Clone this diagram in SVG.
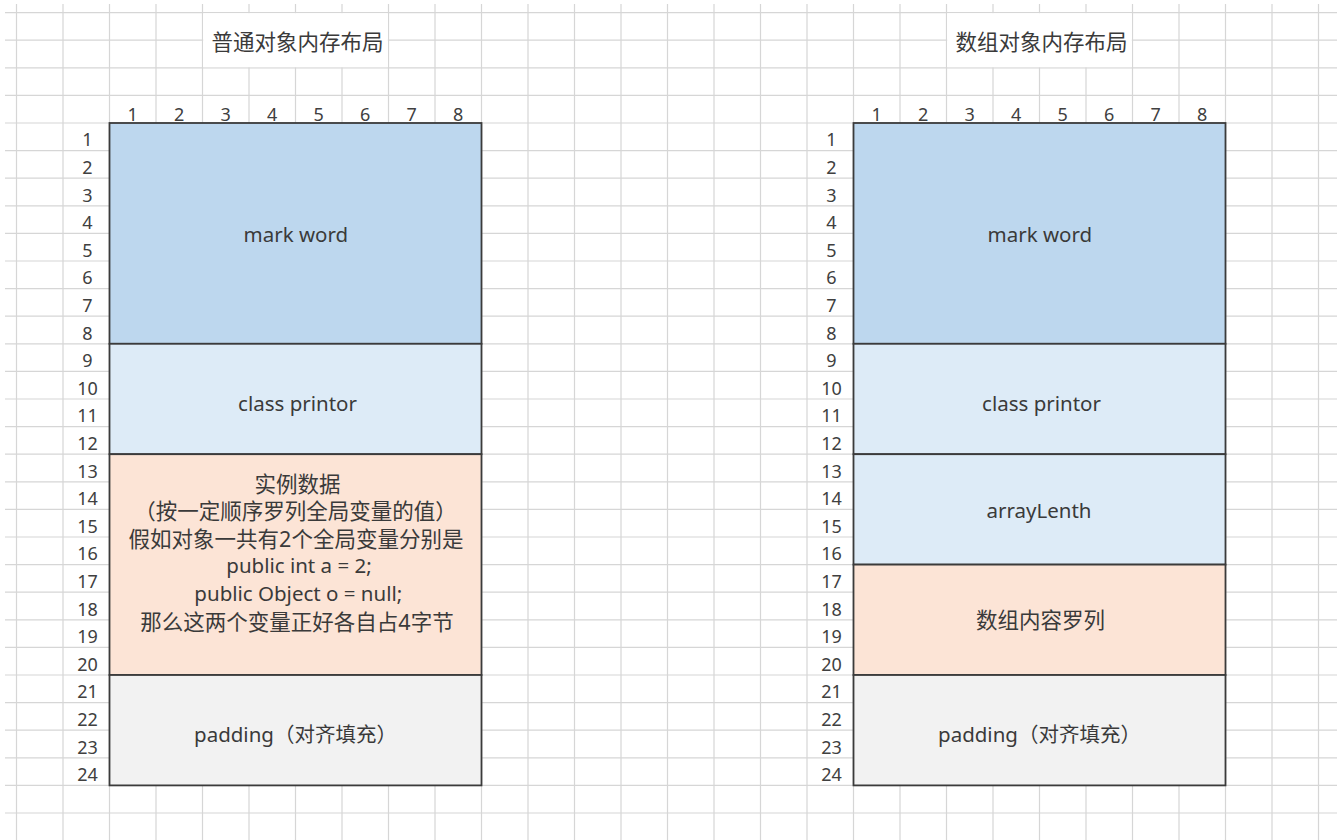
<svg xmlns="http://www.w3.org/2000/svg" width="1337" height="840" viewBox="0 0 1337 840">
<style>
.grid{stroke:#d6d6d6;stroke-width:1.2;fill:none}
.box{stroke:#3b3b3b;stroke-width:1.8}
.b1{fill:#bdd7ee}.b2{fill:#ddebf7}.b3{fill:#fce4d6}.b4{fill:#f2f2f2}
.num{font-family:"Noto Sans","Liberation Sans",sans-serif;font-size:18px;fill:#404040;text-anchor:middle}
.lbl{font-family:"Noto Sans","Noto Sans CJK SC",sans-serif;font-size:20.5px;fill:#3a3a3a;text-anchor:middle}
.cjk{font-family:"Noto Sans","Noto Sans CJK SC",sans-serif;font-size:21.5px;fill:#3a3a3a;text-anchor:middle}
</style>
<rect width="1337" height="840" fill="#ffffff"/>
<g id="grid">
<path class="grid" d="M16.5 4V840M63 4V840M109.5 4V840M156 4V840M202.5 4V840M249 4V840M295.5 4V840M342 4V840M388.5 4V840M435 4V840M481.5 4V840M528 4V840M574.5 4V840M621 4V840M667.5 4V840M714 4V840M760.5 4V840M807 4V840M853.5 4V840M900 4V840M946.5 4V840M993 4V840M1039.5 4V840M1086 4V840M1132.5 4V840M1179 4V840M1225.5 4V840M1272 4V840M1318.5 4V840"/>
<path class="grid" d="M5 12.6H1337M5 40.2H1337M5 67.8H1337M5 95.4H1337M5 123H1337M5 150.6H1337M5 178.2H1337M5 205.8H1337M5 233.4H1337M5 261H1337M5 288.6H1337M5 316.2H1337M5 343.8H1337M5 371.4H1337M5 399H1337M5 426.6H1337M5 454.2H1337M5 481.8H1337M5 509.4H1337M5 537H1337M5 564.6H1337M5 592.2H1337M5 619.8H1337M5 647.4H1337M5 675H1337M5 702.6H1337M5 730.2H1337M5 757.8H1337M5 785.4H1337M5 813H1337"/>
</g>
<g id="left-title">
<rect x="203.2" y="13.2" width="184.6" height="54" fill="#ffffff"/>
<text class="cjk" x="297.5" y="50">普通对象内存布局</text>
</g>
<g id="right-title">
<rect x="947.2" y="13.2" width="184.6" height="54" fill="#ffffff"/>
<text class="cjk" x="1041.5" y="50">数组对象内存布局</text>
</g>
<g id="left-col-headers">
<text class="num" x="132.75" y="120.7">1</text><text class="num" x="179.25" y="120.7">2</text><text class="num" x="225.75" y="120.7">3</text><text class="num" x="272.25" y="120.7">4</text><text class="num" x="318.75" y="120.7">5</text><text class="num" x="365.25" y="120.7">6</text><text class="num" x="411.75" y="120.7">7</text><text class="num" x="458.25" y="120.7">8</text>
</g>
<g id="right-col-headers">
<text class="num" x="876.75" y="120.7">1</text><text class="num" x="923.25" y="120.7">2</text><text class="num" x="969.75" y="120.7">3</text><text class="num" x="1016.25" y="120.7">4</text><text class="num" x="1062.75" y="120.7">5</text><text class="num" x="1109.25" y="120.7">6</text><text class="num" x="1155.75" y="120.7">7</text><text class="num" x="1202.25" y="120.7">8</text>
</g>
<g id="left-row-numbers">
<text class="num" x="87.5" y="146.3">1</text><text class="num" x="87.5" y="173.9">2</text><text class="num" x="87.5" y="201.5">3</text><text class="num" x="87.5" y="229.1">4</text><text class="num" x="87.5" y="256.7">5</text><text class="num" x="87.5" y="284.3">6</text><text class="num" x="87.5" y="311.9">7</text><text class="num" x="87.5" y="339.5">8</text><text class="num" x="87.5" y="367.1">9</text><text class="num" x="87.5" y="394.7">10</text><text class="num" x="87.5" y="422.3">11</text><text class="num" x="87.5" y="449.9">12</text><text class="num" x="87.5" y="477.5">13</text><text class="num" x="87.5" y="505.1">14</text><text class="num" x="87.5" y="532.7">15</text><text class="num" x="87.5" y="560.3">16</text><text class="num" x="87.5" y="587.9">17</text><text class="num" x="87.5" y="615.5">18</text><text class="num" x="87.5" y="643.1">19</text><text class="num" x="87.5" y="670.7">20</text><text class="num" x="87.5" y="698.3">21</text><text class="num" x="87.5" y="725.9">22</text><text class="num" x="87.5" y="753.5">23</text><text class="num" x="87.5" y="781.1">24</text>
</g>
<g id="right-row-numbers">
<text class="num" x="831.5" y="146.3">1</text><text class="num" x="831.5" y="173.9">2</text><text class="num" x="831.5" y="201.5">3</text><text class="num" x="831.5" y="229.1">4</text><text class="num" x="831.5" y="256.7">5</text><text class="num" x="831.5" y="284.3">6</text><text class="num" x="831.5" y="311.9">7</text><text class="num" x="831.5" y="339.5">8</text><text class="num" x="831.5" y="367.1">9</text><text class="num" x="831.5" y="394.7">10</text><text class="num" x="831.5" y="422.3">11</text><text class="num" x="831.5" y="449.9">12</text><text class="num" x="831.5" y="477.5">13</text><text class="num" x="831.5" y="505.1">14</text><text class="num" x="831.5" y="532.7">15</text><text class="num" x="831.5" y="560.3">16</text><text class="num" x="831.5" y="587.9">17</text><text class="num" x="831.5" y="615.5">18</text><text class="num" x="831.5" y="643.1">19</text><text class="num" x="831.5" y="670.7">20</text><text class="num" x="831.5" y="698.3">21</text><text class="num" x="831.5" y="725.9">22</text><text class="num" x="831.5" y="753.5">23</text><text class="num" x="831.5" y="781.1">24</text>
</g>
<g id="left-mark-word">
<rect class="box b1" x="109.5" y="123" width="372" height="220.8"/>
<text class="lbl" x="295.8" y="242.3">mark word</text>
</g>
<g id="left-class-printor">
<rect class="box b2" x="109.5" y="343.8" width="372" height="110.4"/>
<text class="lbl" x="297.5" y="410.5">class printor</text>
</g>
<g id="left-instance-data">
<rect class="box b3" x="109.5" y="454.2" width="372" height="220.8"/>
<text class="cjk" x="297.5" y="491.5">实例数据</text>
<text class="cjk" x="295.5" y="519">（按一定顺序罗列全局变量的值）</text>
<text class="cjk" x="296" y="546.5">假如对象一共有2个全局变量分别是</text>
<text class="lbl" x="299" y="573">public int a = 2;</text>
<text class="lbl" x="298.3" y="601">public Object o = null;</text>
<text class="cjk" x="297" y="629.5">那么这两个变量正好各自占4字节</text>
</g>
<g id="left-padding">
<rect class="box b4" x="109.5" y="675" width="372" height="110.4"/>
<text class="lbl" x="295.5" y="742">padding（对齐填充）</text>
</g>
<g id="right-mark-word">
<rect class="box b1" x="853.5" y="123" width="372" height="220.8"/>
<text class="lbl" x="1039.8" y="242.3">mark word</text>
</g>
<g id="right-class-printor">
<rect class="box b2" x="853.5" y="343.8" width="372" height="110.4"/>
<text class="lbl" x="1041.5" y="410.5">class printor</text>
</g>
<g id="right-array-length">
<rect class="box b2" x="853.5" y="454.2" width="372" height="110.4"/>
<text class="lbl" x="1039" y="518.3">arrayLenth</text>
</g>
<g id="right-array-content">
<rect class="box b3" x="853.5" y="564.6" width="372" height="110.4"/>
<text class="cjk" x="1040.5" y="628">数组内容罗列</text>
</g>
<g id="right-padding">
<rect class="box b4" x="853.5" y="675" width="372" height="110.4"/>
<text class="lbl" x="1039.5" y="742">padding（对齐填充）</text>
</g>
</svg>
